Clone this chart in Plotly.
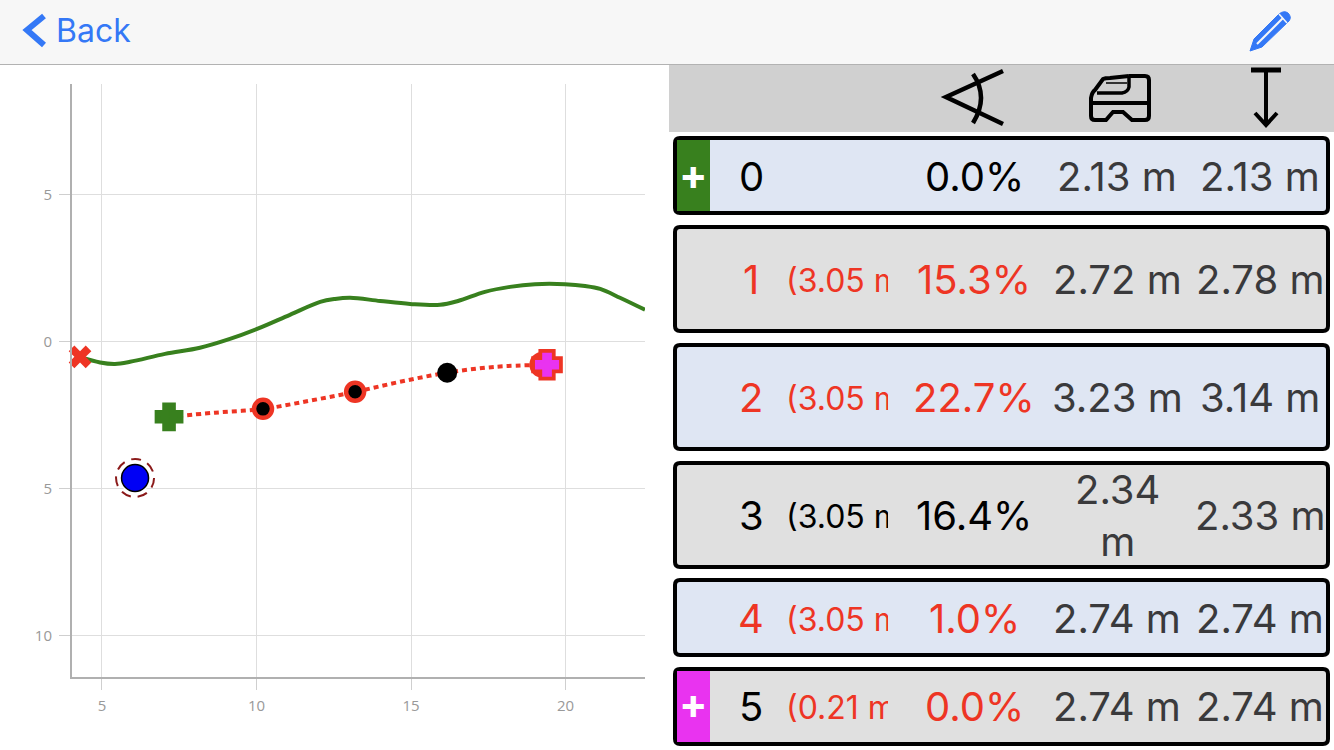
import re
import plotly.graph_objects as go

W = 1334
H = 750
FONT = "Inter"

# chart data (y is below the zero line, labels show absolute values)
green_x = [4.29, 4.94, 5.42, 5.91, 7.04, 8.17, 9.14, 10.02, 11.08, 12.06, 12.54, 13.03,
           14.0, 14.97, 15.94, 16.52, 17.39, 18.2, 19.01, 19.98, 20.63, 21.12, 21.76, 22.57]
green_y = [0.51, 0.7, 0.75, 0.68, 0.41, 0.2, -0.1, -0.44, -0.92, -1.36, -1.46, -1.5,
           -1.39, -1.29, -1.26, -1.39, -1.7, -1.87, -1.96, -1.96, -1.9, -1.8, -1.5, -1.09]
red_x = [7.17, 8.66, 10.21, 11.73, 13.19, 14.64, 16.17, 17.72, 19.34]
red_y = [2.55, 2.41, 2.28, 2.0, 1.70, 1.36, 1.05, 0.85, 0.78]
ring_x = [10.21, 13.19]
ring_y = [2.28, 1.70]
dot_x = [16.17]
dot_y = [1.05]
start_x = [7.17]
start_y = [2.55]
end_x = [19.4]
end_y = [0.78]
end_ring_x = [19.25]
end_ring_y = [0.78]
cross_x = [4.29]
cross_y = [0.51]
pos_x = [6.07]
pos_y = [4.63]

x_ticks = [5, 10, 15, 20]
y_ticks = [-5, 0, 5, 10]
y_labels = ["5", "0", "5", "10"]

# table data
row_names = ["0", "1", "2", "3", "4", "5"]
row_dist = ["", "(3.05 m", "(3.05 m", "(3.05 m", "(3.05 m", "(0.21 m"]
row_pct = ["0.0%", "15.3%", "22.7%", "16.4%", "1.0%", "0.0%"]
row_a = ["2.13 m", "2.72 m", "3.23 m", "2.34<br>m", "2.74 m", "2.74 m"]
row_b = ["2.13 m", "2.78 m", "3.14 m", "2.33 m", "2.74 m", "2.74 m"]
name_red = [False, True, True, False, True, False]
dist_red = [False, True, True, False, True, True]
pct_red = [False, True, True, False, True, True]

row_top = [138, 227, 345, 463, 580, 669]
row_bot = [213, 331, 449, 567, 655, 744]
row_mid = [176, 279, 397, 515, 618, 706]
row_bg = ["#dfe6f3", "#e0e0e0", "#dfe6f3", "#e0e0e0", "#dfe6f3", "#e0e0e0"]

RED = "#ee3524"
GREEN = "#38801e"
PINK = "#e933f0"
BLUE = "#3478f6"
DARK = "#3a3a3c"


def px(v):
    return v / W


def py(v):
    return 1 - v / H


def path(s):
    # pixel path -> paper path
    out = []
    is_x = True
    for tok in s.split():
        if re.match(r"^-?[\d.]+$", tok):
            out.append(str(px(float(tok)) if is_x else py(float(tok))))
            is_x = not is_x
        else:
            out.append(tok)
    return " ".join(out)


def rect(x0, y0, x1, y1, fill, line=None, w=0):
    return dict(type="rect", xref="paper", yref="paper", layer="below",
                x0=px(x0), x1=px(x1), y0=py(y1), y1=py(y0), fillcolor=fill,
                line=dict(color=line or fill, width=w))


def stroke(s, color="black", w=4, fill=None):
    return dict(type="path", xref="paper", yref="paper", layer="below", path=path(s),
                fillcolor=fill or "rgba(0,0,0,0)", line=dict(color=color, width=w))


def rounded(x0, y0, x1, y1, r):
    return (f"M {x0+r} {y0} L {x1-r} {y0} Q {x1} {y0} {x1} {y0+r} L {x1} {y1-r} "
            f"Q {x1} {y1} {x1-r} {y1} L {x0+r} {y1} Q {x0} {y1} {x0} {y1-r} "
            f"L {x0} {y0+r} Q {x0} {y0} {x0+r} {y0} Z")


def label(x, y, text, color="black", size=40, anchor="center"):
    return dict(xref="paper", yref="paper", x=px(x), y=py(y), text=text, showarrow=False,
                xanchor=anchor, yanchor="middle", font=dict(family=FONT, size=size, color=color))


fig = go.Figure()

fig.add_trace(go.Scatter(x=green_x, y=green_y, mode="lines", line=dict(color=GREEN, width=4, shape="spline"),
                         cliponaxis=False))
fig.add_trace(go.Scatter(x=red_x, y=red_y, mode="lines", line=dict(color=RED, width=4, dash="5px,4px", shape="spline")))
fig.add_trace(go.Scatter(x=cross_x, y=cross_y, mode="markers", cliponaxis=False,
                         marker=dict(symbol="x", size=20, color=RED)))
fig.add_trace(go.Scatter(x=start_x, y=start_y, mode="markers",
                         marker=dict(symbol="cross", size=19, color=GREEN, line=dict(color=GREEN, width=6))))
fig.add_trace(go.Scatter(x=ring_x, y=ring_y, mode="markers",
                         marker=dict(size=18, color="black", line=dict(color=RED, width=4.5))))
fig.add_trace(go.Scatter(x=dot_x, y=dot_y, mode="markers", marker=dict(size=20, color="black")))
fig.add_trace(go.Scatter(x=end_ring_x, y=end_ring_y, mode="markers", marker=dict(size=26, color=RED)))
fig.add_trace(go.Scatter(x=end_x, y=end_y, mode="markers",
                         marker=dict(symbol="cross", size=18, color=RED, line=dict(color=RED, width=10))))
fig.add_trace(go.Scatter(x=end_x, y=end_y, mode="markers",
                         marker=dict(symbol="cross", size=18, color=PINK, line=dict(color=PINK, width=2.5))))
fig.add_trace(go.Scatter(x=pos_x, y=pos_y, mode="markers", marker=dict(size=31, color="white")))
fig.add_trace(go.Scatter(x=pos_x, y=pos_y, mode="markers",
                         marker=dict(size=27, color="#0000f5", line=dict(color="black", width=1.5))))

# clipped distance column
dist_colors = [RED if r else "black" for r in dist_red]
fig.add_trace(go.Scatter(x=[786] * 6, y=[m + 5 for m in row_mid], text=row_dist, mode="text",
                         textposition="middle right",
                         textfont=dict(family=FONT, size=32, color=dist_colors),
                         xaxis="x2", yaxis="y2", cliponaxis=True))

shapes = [
    rect(0, 0, W, 64, "#f7f7f7"),
    rect(0, 64, W, 65, "#b2b2b2"),
    rect(669, 65, W, 132, "#d0d0d0"),
    # chevron
    stroke("M 44 16 L 27 30 L 44 45", BLUE, 6),
    # pencil
    stroke("M 1250 51 L 1254 39 L 1279 14 Q 1284 10 1288 13 Q 1292 17 1289 21 L 1262 47 Z", BLUE, 1, BLUE),
    stroke("M 1257 44 L 1283 18", "#f7f7f7", 2),
    stroke("M 1279 14 L 1287 23", "#f7f7f7", 1.5),
    # angle icon
    stroke("M 1003 71 L 946 97 L 1003 124", "black", 4.5),
    stroke("M 973 74 Q 989 97 973 123", "black", 4.5),
    # robot icon
    stroke("M 1129 76 L 1145 76 Q 1149 76 1149 80 L 1149 116 Q 1149 120 1145 120 L 1132 120 L 1123 112 "
           "L 1113 112 L 1106 120 L 1095 120 Q 1091 120 1091 116 L 1091 98 Q 1092 92 1095 90 L 1103 79 "
           "Q 1105 78 1110 78 L 1129 76", "black", 4),
    stroke("M 1091 103 L 1149 103", "black", 4),
    stroke("M 1097 93 L 1122 93 Q 1128 92 1129 87 L 1129 76", "black", 3.5),
    stroke("M 1106 83 L 1127 83", "black", 1.5),
    # depth arrow
    stroke("M 1251 70 L 1281 70", "black", 5),
    stroke("M 1266 70 L 1266 124", "black", 4),
    stroke("M 1255 113 L 1266 125 L 1277 113", "black", 4),
]

for i in range(len(row_names)):
    shapes.append(stroke(rounded(675, row_top[i], 1328, row_bot[i], 5), "black", 4, row_bg[i]))

shapes.append(rect(677, 140, 710, 211, GREEN))
shapes.append(rect(677, 671, 710, 742, PINK))

# dashed ring round the position marker
shapes.append(dict(type="circle", xref="x", yref="y", xsizemode="pixel", ysizemode="pixel",
                   xanchor=pos_x[0], yanchor=pos_y[0], x0=-19, x1=19, y0=-19, y1=19,
                   line=dict(color="#8b1a1a", width=2, dash="10px,7px")))

annotations = [label(54, 30, "Back", BLUE, 32, "left"),
               label(693, 174, "<b>+</b>", "white", 42),
               label(693, 703, "<b>+</b>", "white", 42)]

for i in range(len(row_names)):
    annotations.append(label(751, row_mid[i], row_names[i], RED if name_red[i] else "black"))
    annotations.append(label(974, row_mid[i], row_pct[i], RED if pct_red[i] else "black"))
    annotations.append(label(1117, row_mid[i], row_a[i], DARK))
    annotations.append(label(1260, row_mid[i], row_b[i], DARK))

tick_font = dict(family="Open Sans", size=15, color="#999999")

fig.update_layout(
    width=W, height=H, margin=dict(l=0, r=0, t=0, b=0),
    paper_bgcolor="white", plot_bgcolor="rgba(0,0,0,0)", showlegend=False, hovermode=False,
    shapes=shapes, annotations=annotations,
    xaxis=dict(domain=[px(72), px(645)], range=[4.03, 22.57], tickvals=x_ticks, ticks="outside", ticklen=11,
               tickcolor="#cfcfcf", showgrid=True, gridcolor="#dedede", zeroline=False, showline=True,
               linecolor="#b0b0b0", linewidth=2, tickfont=tick_font, ticklabelstandoff=3, anchor="y"),
    yaxis=dict(domain=[py(677), py(84)], range=[11.40, -8.77], tickvals=y_ticks, ticktext=y_labels,
               ticks="outside", ticklen=11, tickcolor="#cfcfcf", showgrid=True, gridcolor="#dedede",
               zeroline=False, showline=True, linecolor="#b0b0b0", linewidth=2,
               tickfont=tick_font, ticklabelstandoff=4, anchor="x"),
    xaxis2=dict(domain=[px(780), px(888)], range=[780, 888], visible=False, anchor="y2"),
    yaxis2=dict(domain=[0, 1], range=[750, 0], visible=False, anchor="x2"),
)

fig.write_html("out.html", config={"displayModeBar": False},
               post_script="document.body.style.margin='0';document.body.style.overflow='hidden';")
